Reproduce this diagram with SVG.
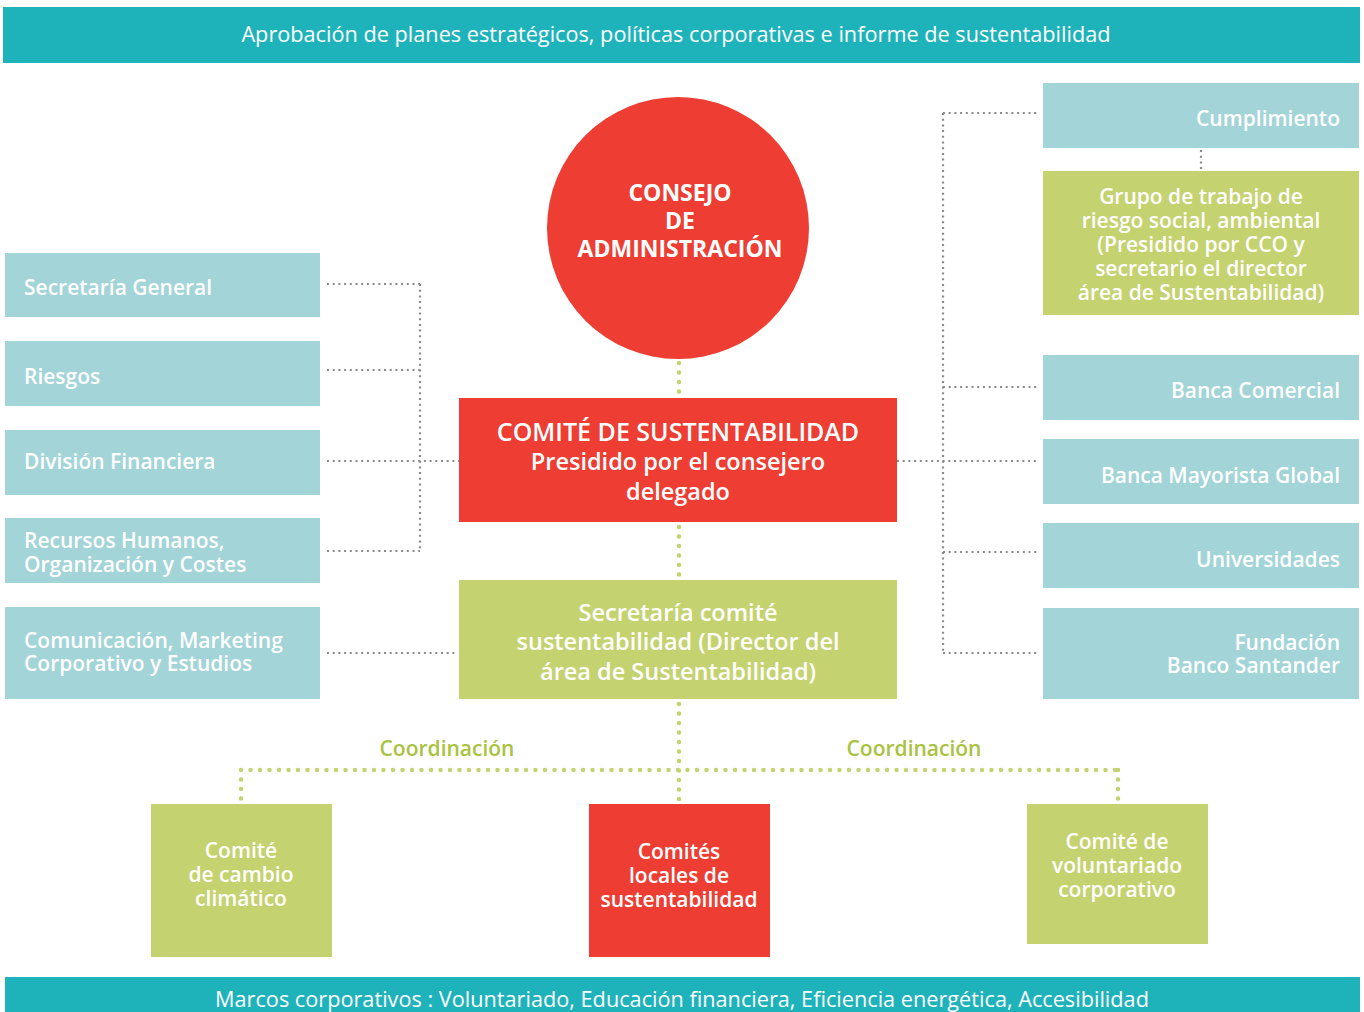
<svg xmlns="http://www.w3.org/2000/svg" width="1364" height="1012" viewBox="0 0 1364 1012">
<style>
text{font-family:"Open Sans","Noto Sans","Liberation Sans",sans-serif;fill:#fff;font-weight:600}
.bar{fill:#1eb3bb}
.blue{fill:#a2d4d8}
.green{fill:#c5d270}
.red{fill:#ee3d33}
.t21{font-size:21px}
.t22{font-size:23px}
.t24{font-size:23.5px}
.tt{font-size:25px}
.bt{font-weight:400;font-size:21.7px}
.b{font-weight:bold}
.mid{text-anchor:middle}
.end{text-anchor:end}
.gray{stroke:#8a8a8a;stroke-width:2.2;stroke-dasharray:2 3.7;fill:none;stroke-linecap:butt}
.gdot{stroke:#c5d270;stroke-width:4.5;stroke-dasharray:0 9.5;stroke-linecap:round;fill:none}
.coord{fill:#a9c23f;font-size:21px}
</style>
<g id="connectors">
<path class="gray" d="M327 284H420M327 370H420M327 461H459M327 551H420M420 284V551M327 653H458"/>
<path class="gray" d="M943 113H1037M943 387H1037M897 461H1037M943 552H1037M943 653H1037M943 113V653M1201 150V169"/>
<path class="gdot" d="M679 363V396M679 527V578M679 704V802M241 770H1118M241 770V802M1118 770V802"/>
</g>
<g id="top-bar"><rect class="bar" x="3" y="7" width="1357" height="56"/><text class="bt mid" x="676" y="42">Aprobación de planes estratégicos, políticas corporativas e informe de sustentabilidad</text></g>
<g id="bottom-bar"><rect class="bar" x="5" y="977" width="1355" height="40"/><text class="bt mid" x="682" y="1007">Marcos corporativos : Voluntariado, Educación financiera, Eficiencia energética, Accesibilidad</text></g>
<g id="consejo"><circle class="red" cx="678" cy="228" r="131"/><text class="t22 b mid" x="680" y="201">CONSEJO</text><text class="t22 b mid" x="680" y="229">DE</text><text class="t22 b mid" x="680" y="257">ADMINISTRACIÓN</text></g>
<g id="comite"><rect class="red" x="459" y="398" width="438" height="124"/><text class="tt mid" x="678" y="441">COMITÉ DE SUSTENTABILIDAD</text><text class="t24 mid" x="678" y="470">Presidido por el consejero</text><text class="t24 mid" x="678" y="500">delegado</text></g>
<g id="secretaria-comite"><rect class="green" x="459" y="580" width="438" height="119"/><text class="t24 mid" x="678" y="621">Secretaría comité</text><text class="t24 mid" x="678" y="650">sustentabilidad (Director del</text><text class="t24 mid" x="678" y="680">área de Sustentabilidad)</text></g>
<g id="secretaria-general"><rect class="blue" x="5" y="253" width="315" height="64"/><text class="t21" x="24" y="295">Secretaría General</text></g>
<g id="riesgos"><rect class="blue" x="5" y="341" width="315" height="65"/><text class="t21" x="24" y="384">Riesgos</text></g>
<g id="division-financiera"><rect class="blue" x="5" y="430" width="315" height="65"/><text class="t21" x="24" y="469">División Financiera</text></g>
<g id="recursos-humanos"><rect class="blue" x="5" y="518" width="315" height="65"/><text class="t21" x="24" y="548">Recursos Humanos,</text><text class="t21" x="24" y="572">Organización y Costes</text></g>
<g id="comunicacion"><rect class="blue" x="5" y="607" width="315" height="92"/><text class="t21" x="24" y="648">Comunicación, Marketing</text><text class="t21" x="24" y="671">Corporativo y Estudios</text></g>
<g id="cumplimiento"><rect class="blue" x="1043" y="83" width="316" height="65"/><text class="t21 end" x="1340" y="126">Cumplimiento</text></g>
<g id="grupo-trabajo"><rect class="green" x="1043" y="171" width="316" height="144"/><text class="t21 mid" x="1201" y="204">Grupo de trabajo de</text><text class="t21 mid" x="1201" y="228">riesgo social, ambiental</text><text class="t21 mid" x="1201" y="252">(Presidido por CCO y</text><text class="t21 mid" x="1201" y="276">secretario el director</text><text class="t21 mid" x="1201" y="300">área de Sustentabilidad)</text></g>
<g id="banca-comercial"><rect class="blue" x="1043" y="355" width="316" height="65"/><text class="t21 end" x="1340" y="398">Banca Comercial</text></g>
<g id="banca-mayorista"><rect class="blue" x="1043" y="439" width="316" height="65"/><text class="t21 end" x="1340" y="483">Banca Mayorista Global</text></g>
<g id="universidades"><rect class="blue" x="1043" y="523" width="316" height="65"/><text class="t21 end" x="1340" y="567">Universidades</text></g>
<g id="fundacion"><rect class="blue" x="1043" y="608" width="316" height="91"/><text class="t21 end" x="1340" y="650">Fundación</text><text class="t21 end" x="1340" y="673">Banco Santander</text></g>
<g id="coordinacion-labels"><text class="coord mid" x="447" y="756">Coordinación</text><text class="coord mid" x="914" y="756">Coordinación</text></g>
<g id="cambio-climatico"><rect class="green" x="151" y="804" width="181" height="153"/><text class="t21 mid" x="241" y="858">Comité</text><text class="t21 mid" x="241" y="882">de cambio</text><text class="t21 mid" x="241" y="906">climático</text></g>
<g id="comites-locales"><rect class="red" x="589" y="804" width="181" height="153"/><text class="t21 mid" x="679" y="859">Comités</text><text class="t21 mid" x="679" y="883">locales de</text><text class="t21 mid" x="679" y="907">sustentabilidad</text></g>
<g id="voluntariado"><rect class="green" x="1027" y="804" width="181" height="140"/><text class="t21 mid" x="1117" y="849">Comité de</text><text class="t21 mid" x="1117" y="873">voluntariado</text><text class="t21 mid" x="1117" y="897">corporativo</text></g>
</svg>
